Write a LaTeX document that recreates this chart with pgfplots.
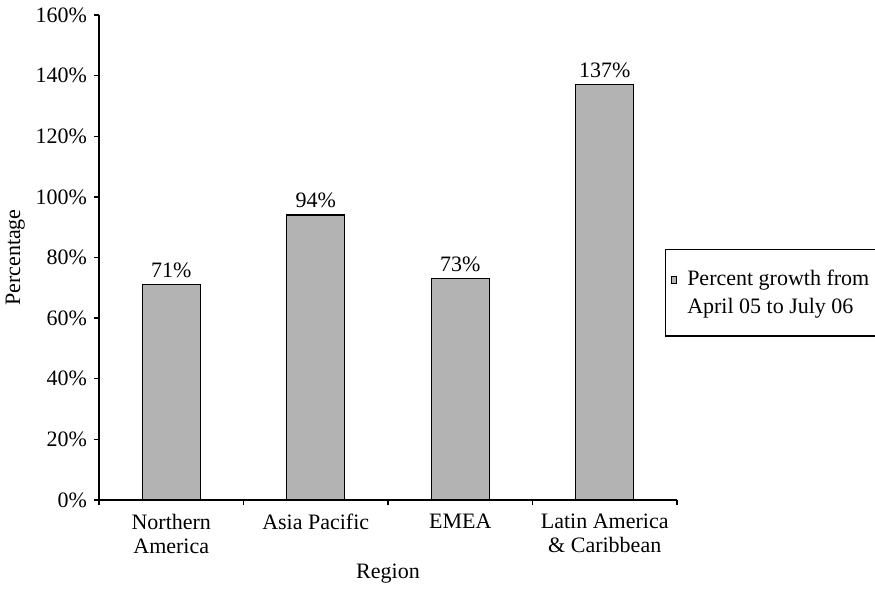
\documentclass[border=0pt]{standalone}
\usepackage{fontspec}
\setmainfont{Liberation Serif}
\usepackage{pgfplots}
\pgfplotsset{compat=1.18}
\definecolor{bargray}{RGB}{179,179,179}
\newcommand{\ff}{\fontsize{11bp}{12bp}\selectfont}
\begin{document}
\begin{tikzpicture}
\begin{axis}[
  scale only axis, width=289bp, height=242.5bp,
  xmin=-0.5, xmax=3.5, ymin=0, ymax=160,
  axis lines*=left,
  axis line style={-, black, line width=0.65bp},
  tick align=outside,
  xtick={0,1,2,3},
  xticklabels={Northern\\America, Asia Pacific, EMEA, Latin America\\\& Caribbean},
  major x tick style={draw=none},
  minor xtick={-0.5,0.5,1.5,2.5,3.5},
  minor tick length=2.5bp, major tick length=2.5bp,
  every tick/.style={black, line width=0.65bp},
  minor x tick style={black, line width=0.65bp},
  ytick={0,20,...,160},
  /pgf/number format/assume math mode=true,
  yticklabel={\pgfmathprintnumber{\tick}\%},
  xticklabel style={align=center, font=\ff, yshift=-1bp},
  yticklabel style={font=\ff},
  xlabel={Region}, ylabel={Percentage},
  xlabel style={font=\ff, at={(axis description cs:0.5,-0.152)}, anchor=center},
  ylabel style={font=\ff, at={(axis description cs:-0.145,0.5)}, anchor=center, rotate=0},
  ybar, bar width=29bp,
  nodes near coords={\pgfmathprintnumber{\pgfplotspointmeta}\%},
  every node near coord/.append style={font=\ff},
  legend style={at={(rel axis cs:0.979,0.5175)}, anchor=north west, draw=black, line width=0.6bp,
    font=\fontsize{11bp}{14bp}\selectfont, inner xsep=3bp, inner ysep=8bp,
    column sep=3bp, nodes={align=left}},
  legend cell align=left,
  legend image code/.code={\draw[#1, line width=0.4bp] (1.5bp,4.5bp) rectangle (4bp,8bp);},
]
\addplot[fill=bargray, draw=black, line width=0.6bp] coordinates {(0,71) (1,94) (2,73) (3,137)};
\addlegendentry{Percent growth from\\April 05 to July 06\hspace*{10bp}}
\end{axis}
\pgfresetboundingbox
\path (-49.5bp,-46bp) rectangle (388bp,250bp);
\end{tikzpicture}
\end{document}
